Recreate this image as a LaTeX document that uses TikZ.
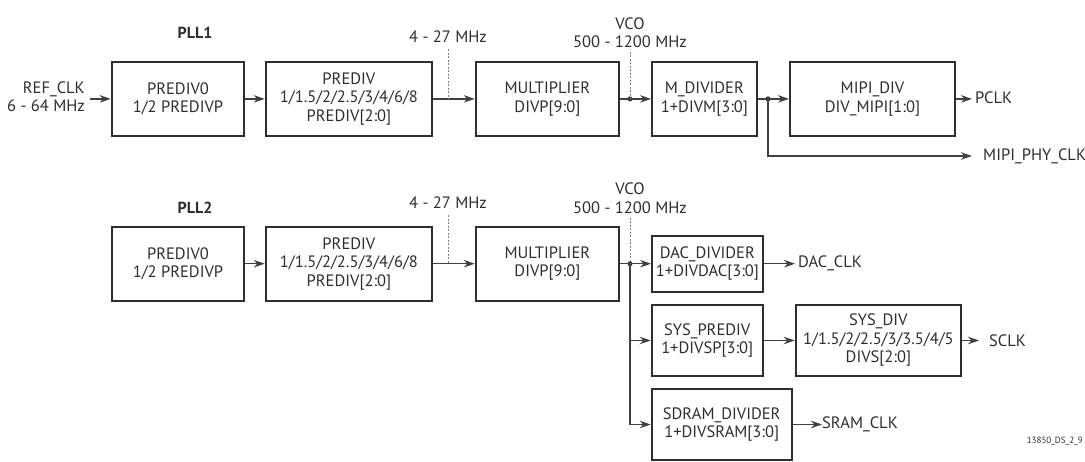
\documentclass[tikz,border=0pt]{standalone}
\usepackage{fontspec}
\setmainfont{PT Sans}
\usetikzlibrary{arrows.meta}
\definecolor{ink}{HTML}{2E2E2E}
\definecolor{wire}{HTML}{404040}
\definecolor{probec}{HTML}{808080}
\begin{document}
\begin{tikzpicture}[x=1pt,y=-1pt,
  blk/.style={draw=ink, line width=2pt, text=ink, align=center, inner sep=0pt, font=\fontsize{16.5}{18.5}\selectfont},
  lbl/.style={text=ink, inner sep=0pt, font=\fontsize{16.5}{18.5}\selectfont},
  title/.style={text=ink, inner sep=0pt, font=\fontsize{16}{18.5}\selectfont\bfseries},
  conn/.style={draw=wire, line width=1.3pt, -{Stealth[length=11pt,width=7.5pt,inset=3.5pt]}},
  probe/.style={draw=probec, line width=1pt, dash pattern=on 2pt off 1.5pt},
  jdot/.style={circle, fill=ink, inner sep=0pt, minimum size=5pt},
  rowa/.style={minimum height=74.3pt},
]
\useasboundingbox (0,0) rectangle (1085,462);

% ---------------- PLL1 ----------------
\node[title] (pll1) at (195,33) {PLL1};
\node[lbl, align=right, anchor=east] (refclk) at (85,96.5) {REF\_CLK\\6 - 64 MHz};

\node[blk, rowa, minimum width=132.6pt] (p0a) at (178,98.9) {PREDIV0\\1/2 PREDIVP};
\node[blk, rowa, minimum width=166.3pt] (pa) at (348.9,98.9) {PREDIV\\1/1.5/2/2.5/3/4/6/8\\PREDIV[2:0]};
\node[blk, rowa, minimum width=143.3pt] (ma) at (547.4,98.9) {MULTIPLIER\\DIVP[9:0]};
\node[blk, rowa, minimum width=104.7pt] (mdiv) at (704.4,98.9) {M\_DIVIDER\\1+DIVM[3:0]};
\node[blk, rowa, minimum width=165pt] (mipi) at (872.5,98.9) {MIPI\_DIV\\DIV\_MIPI[1:0]};

\node[lbl] (fa) at (448,37) {4 - 27 MHz};
\node[lbl, align=center] (vcoa) at (630,32.5) {VCO\\500 - 1200 MHz};

\node[jdot] (d2a) at (630,98.9) {};
\node[jdot] (d3a) at (768,98.9) {};

\node[lbl, anchor=west] (pclk) at (975,97.5) {PCLK};
\node[lbl, anchor=west] (phy) at (983,156) {MIPI\_PHY\_CLK};
\coordinate (phyend) at (972,156);

\draw[conn] ([xshift=5pt]refclk.east |- p0a.west) -- (p0a.west);
\draw[conn] (p0a.east) -- (pa.west);
\draw[conn] (pa.east) -- (ma.west);
\draw[probe] ([yshift=-6pt]fa.south) -- (fa.south |- pa.east);
\draw[conn] (ma.east) -- (mdiv.west);
\draw[probe] ([yshift=-4pt]vcoa.south) -- (d2a.center);
\draw[conn] (mdiv.east) -- (mipi.west);
\draw[conn] (mipi.east) -- ([xshift=-3pt]pclk.west |- mipi.east);
\draw[conn] (d3a.center) |- (phyend);

% ---------------- PLL2 ----------------
\node[title] (pll2) at (195,207.7) {PLL2};

\node[blk, rowa, minimum width=132.6pt] (p0b) at (178,263.7) {PREDIV0\\1/2 PREDIVP};
\node[blk, rowa, minimum width=166.3pt] (pb) at (348.9,263.7) {PREDIV\\1/1.5/2/2.5/3/4/6/8\\PREDIV[2:0]};
\node[blk, rowa, minimum width=143.3pt] (mb) at (547.4,263.7) {MULTIPLIER\\DIVP[9:0]};

\node[lbl] (fb) at (448,203) {4 - 27 MHz};
\node[lbl, align=center] (vcob) at (630,198.4) {VCO\\500 - 1200 MHz};

\node[blk, minimum width=110.7pt, minimum height=56pt] (dac) at (707.4,263.7) {DAC\_DIVIDER\\1+DIVDAC[3:0]};
\node[blk, minimum width=111pt, minimum height=71pt] (sysp) at (707.2,340.5) {SYS\_PREDIV\\1+DIVSP[3:0]};
\node[blk, minimum width=165.3pt, minimum height=70.7pt] (sysd) at (878.4,340.5) {SYS\_DIV\\1/1.5/2/2.5/3/3.5/4/5\\DIVS[2:0]};
\node[blk, minimum width=140pt, minimum height=71pt] (sdram) at (721.7,424.5) {SDRAM\_DIVIDER\\1+DIVSRAM[3:0]};

\node[jdot] (d2b) at (630,263.7) {};

\node[lbl, anchor=west] (dacclk) at (798,263.5) {DAC\_CLK};
\node[lbl, anchor=west] (sclk) at (989,340.5) {SCLK};
\node[lbl, anchor=west] (sramclk) at (822,424.5) {SRAM\_CLK};
\coordinate (sclkend) at (979,340.5);

\node[text=ink, inner sep=0pt, anchor=east, font=\fontsize{9}{10}\selectfont] (ref) at (1083,441.7) {13850\_DS\_2\_9};

\draw[conn] (p0b.east) -- (pb.west);
\draw[conn] (pb.east) -- (mb.west);
\draw[probe] ([yshift=-6pt]fb.south) -- (fb.south |- pb.east);
\draw[conn] (mb.east) -- (dac.west);
\draw[probe] ([yshift=-4pt]vcob.south) -- (d2b.center);
\draw[conn] (d2b.center) |- (sdram.west);
\draw[conn] (d2b.center |- sysp.west) -- (sysp.west);
\draw[conn] (dac.east) -- ([xshift=-3pt]dacclk.west |- dac.east);
\draw[conn] (sysp.east) -- (sysd.west);
\draw[conn] (sysd.east) -- (sclkend);
\draw[conn] (sdram.east) -- (sramclk.west |- sdram.east);
\end{tikzpicture}
\end{document}
